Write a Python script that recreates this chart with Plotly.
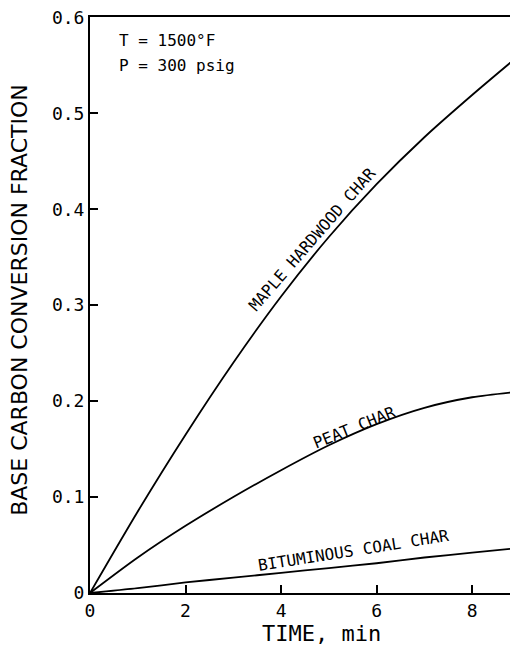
import plotly.graph_objects as go

# Data
time_min = [0, 1, 2, 3, 4, 5, 6, 7, 8, 9]
maple_hardwood = [0, 0.085, 0.165, 0.240, 0.309, 0.371, 0.426, 0.475, 0.519, 0.561]
peat = [0, 0.037, 0.070, 0.100, 0.128, 0.154, 0.176, 0.193, 0.204, 0.210]
bituminous_coal = [0, 0.005, 0.011, 0.016, 0.021, 0.026, 0.031, 0.037, 0.042, 0.047]

x_ticks = [0, 2, 4, 6, 8]
x_tick_labels = ["0", "2", "4", "6", "8"]
y_ticks = [0, 0.1, 0.2, 0.3, 0.4, 0.5, 0.6]
y_tick_labels = ["0", "0.1", "0.2", "0.3", "0.4", "0.5", "0.6"]

curve_labels = ["MAPLE HARDWOOD CHAR", "PEAT CHAR", "BITUMINOUS COAL CHAR"]
label_pos = [(4.65, 0.368, -49), (5.53, 0.172, -22), (5.51, 0.044, -9)]

fig = go.Figure()
for ys in (maple_hardwood, peat, bituminous_coal):
    fig.add_trace(go.Scatter(x=time_min, y=ys, mode="lines",
                             line=dict(color="black", width=1.8, shape="spline", smoothing=0.8),
                             showlegend=False, hoverinfo="skip"))

mono = "DejaVu Sans Mono"
annotations = []
for txt, (lx, ly, ang) in zip(curve_labels, label_pos):
    annotations.append(dict(x=lx, y=ly, xref="x", yref="y", text=txt, showarrow=False,
                            textangle=ang, font=dict(family=mono, size=16, color="black"),
                            xanchor="center", yanchor="middle"))

annotations += [
    dict(x=0, y=1, xref="paper", yref="paper", text="T = 1500°F", showarrow=False,
         xanchor="left", yanchor="middle", xshift=27, yshift=-23,
         font=dict(family=mono, size=16, color="black")),
    dict(x=0, y=1, xref="paper", yref="paper", text="P = 300 psig", showarrow=False,
         xanchor="left", yanchor="middle", xshift=27, yshift=-48,
         font=dict(family=mono, size=16, color="black")),
    dict(x=0, y=0.509, xref="paper", yref="paper", text="BASE CARBON CONVERSION FRACTION",
         showarrow=False, textangle=-90, xanchor="center", yanchor="middle", xshift=-70,
         font=dict(family="DejaVu Sans", size=22, color="black")),
    dict(x=0.54, y=0, xref="paper", yref="paper", text="TIME, min",
         showarrow=False, xanchor="center", yanchor="middle", yshift=-40,
         font=dict(family=mono, size=22, color="black")),
]

# The page adds an 8px body margin, so the figure is sized/offset to compensate.
fig.update_layout(
    width=510, height=637,
    margin=dict(l=82, r=0, t=9, b=52),
    paper_bgcolor="white", plot_bgcolor="white",
    annotations=annotations,
    xaxis=dict(range=[0, 8.96], tickvals=x_ticks, ticktext=x_tick_labels,
               ticks="inside", ticklen=8, tickwidth=1.5, tickcolor="black",
               showline=True, linecolor="black", linewidth=2, mirror=True,
               showgrid=False, zeroline=False, ticklabeloverflow="allow",
               tickfont=dict(family=mono, size=18, color="black")),
    yaxis=dict(range=[0, 0.6003], tickvals=y_ticks, ticktext=y_tick_labels,
               ticks="inside", ticklen=8, tickwidth=1.5, tickcolor="black",
               showline=True, linecolor="black", linewidth=2,
               showgrid=False, zeroline=False, ticklabeloverflow="allow",
               tickfont=dict(family=mono, size=18, color="black")),
)

fig.write_html("out.html")
